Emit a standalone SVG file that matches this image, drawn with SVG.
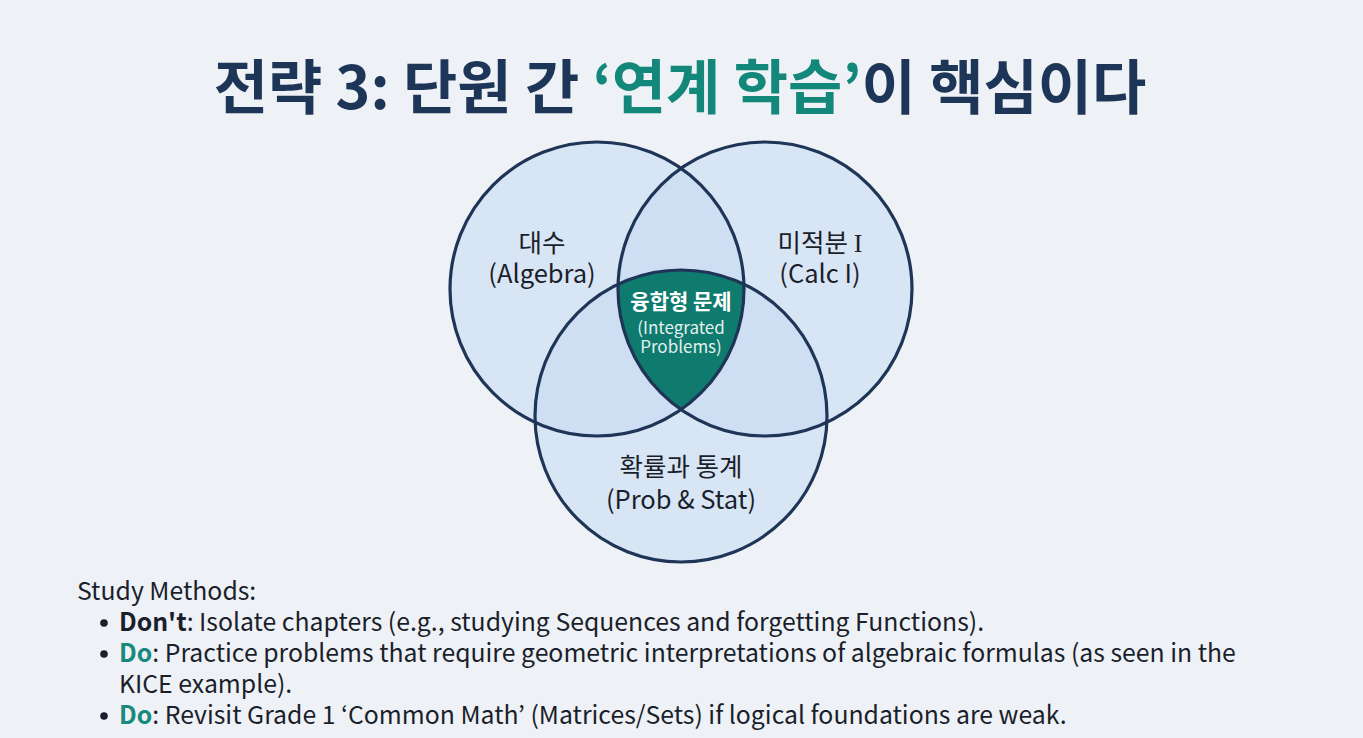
<svg xmlns="http://www.w3.org/2000/svg" width="1363" height="738" viewBox="0 0 1363 738">
<defs>
<style>
.t{font-family:"Noto Sans CJK KR","Noto Sans",sans-serif;}
.lbl{font-family:"Noto Sans CJK KR","Noto Sans",sans-serif;font-size:25.5px;fill:#1a1f2b;text-anchor:middle;}
.circ{fill:#c6dbf3;fill-opacity:0.55;}
.ring{fill:none;stroke:#1e3557;stroke-width:3.2;}
.body{font-family:"Noto Sans CJK KR","Noto Sans",sans-serif;font-size:24.8px;fill:#1a1f2b;}
.do{fill:#178a7d;font-weight:bold;}
</style>
<clipPath id="clipA"><circle cx="597" cy="289" r="147"/></clipPath>
<clipPath id="clipB"><circle cx="765" cy="289" r="147"/></clipPath>
</defs>
<rect width="1363" height="738" fill="#eef1f6"/>
<text class="t" x="680" y="109" font-size="59" font-weight="bold" fill="#1d3557" text-anchor="middle">전략 3: 단원 간 <tspan fill="#12877a">‘연계 학습’</tspan>이 핵심이다</text>

<g id="node-algebra">
<circle class="circ" cx="597" cy="289" r="147"/>
</g>
<g id="node-calc">
<circle class="circ" cx="765" cy="289" r="147"/>
</g>
<g id="node-prob">
<circle class="circ" cx="681" cy="416" r="146"/>
</g>
<g id="node-center">
<g clip-path="url(#clipA)"><g clip-path="url(#clipB)"><circle cx="681" cy="416" r="146" fill="#0f7a6e"/></g></g>
</g>
<g id="rings">
<circle class="ring" cx="597" cy="289" r="147"/>
<circle class="ring" cx="765" cy="289" r="147"/>
<circle class="ring" cx="681" cy="416" r="146"/>
</g>
<g id="labels">
<text class="lbl" x="542" y="252">대수</text>
<text class="lbl" x="542" y="283">(Algebra)</text>
<text class="lbl" x="820" y="252">미적분 <tspan font-family="Liberation Serif, serif" font-size="26">I</tspan></text>
<text class="lbl" x="820" y="283">(Calc I)</text>
<text class="lbl" x="681" y="476">확률과 통계</text>
<text class="lbl" x="681" y="509">(Prob &amp; Stat)</text>
<text class="t" x="681" y="309" font-size="21" font-weight="bold" fill="#ffffff" text-anchor="middle">융합형 문제</text>
<text class="t" x="681" y="334" font-size="17" fill="#e3f1ee" text-anchor="middle">(Integrated</text>
<text class="t" x="681" y="353" font-size="17" fill="#e3f1ee" text-anchor="middle">Problems)</text>
</g>
<g id="notes">
<text class="body" x="77" y="600">Study Methods:</text>
<circle cx="104" cy="623" r="3.8" fill="#1a1f2b"/>
<text class="body" x="119" y="631"><tspan font-weight="bold">Don't</tspan>: Isolate chapters (e.g., studying Sequences and forgetting Functions).</text>
<circle cx="104" cy="654" r="3.8" fill="#1a1f2b"/>
<text class="body" x="119" y="662"><tspan class="do">Do</tspan>: Practice problems that require geometric interpretations of algebraic formulas (as seen in the</text>
<text class="body" x="119" y="693">KICE example).</text>
<circle cx="104" cy="716" r="3.8" fill="#1a1f2b"/>
<text class="body" x="119" y="724"><tspan class="do">Do</tspan>: Revisit Grade 1 ‘Common Math’ (Matrices/Sets) if logical foundations are weak.</text>
</g>
</svg>
